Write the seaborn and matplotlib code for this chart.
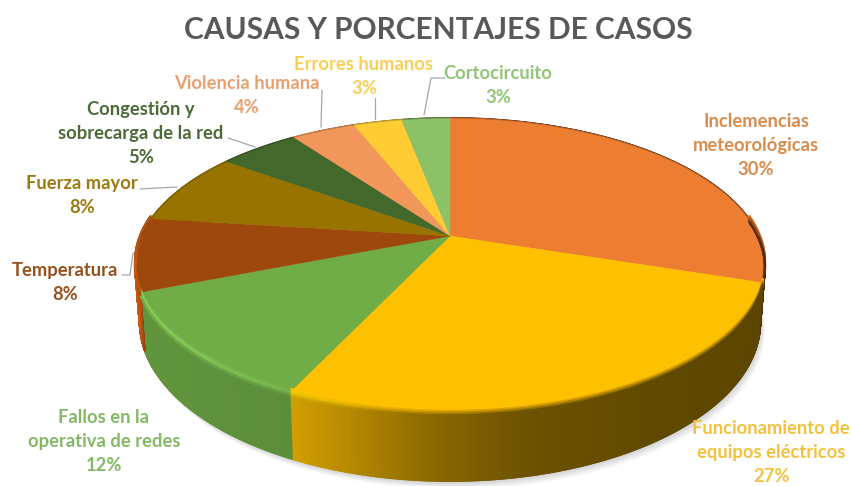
import numpy as np
import matplotlib
matplotlib.use("Agg")
import matplotlib.pyplot as plt
from matplotlib.collections import LineCollection, PolyCollection
import seaborn as sns

# Cases by cause, clockwise from twelve o'clock
categories = [
    "Inclemencias\nmeteorológicas",
    "Funcionamiento de\nequipos eléctricos",
    "Fallos en la\noperativa de redes",
    "Temperatura",
    "Fuerza mayor",
    "Congestión y\nsobrecarga de la red",
    "Violencia humana",
    "Errores humanos",
    "Cortocircuito",
]
percentages = [30, 27, 12, 8, 8, 5, 4, 3, 3]
slice_colors = ["#ED7D31", "#FFC000", "#70AD47", "#9E480E", "#997300",
                "#43682B", "#F1975A", "#FFCD33", "#8CC168"]
label_colors = ["#D98C4E", "#F2C23E", "#84B866", "#96511F", "#9C7B12",
                "#4B6B36", "#E8A070", "#F8CF55", "#94C478"]
label_centers = [(756, 145), (771, 452), (104, 441), (65, 282), (82, 195),
                 (141, 133), (247, 95), (364, 76), (498, 85)]
leaders = [
    [(322, 90), (321, 127)],
    [(375, 98), (375, 119)],
    [(445, 78), (431, 78), (424, 115)],
    [(228, 138), (255, 147)],
    [(140, 189), (177, 187)],
    [(122, 275), (130, 275), (133, 253)],
]

# Pie projection: a tilted disc seen in perspective, in pixel units
CX, CY = 450.0, 236.0
A, B, K = 308.6, 141.6, 0.2
DEPTH = 54.4
BASE_SCALE = 0.985
LINE_STEP = 24


def project(theta):
    u, v = np.cos(theta), np.sin(theta)
    w = 1 + K * v
    return CX + A * u / w, CY - B * v / w


def project_base(theta):
    x, y = project(theta)
    w = 1 + K * np.sin(theta)
    return CX + (x - CX) * BASE_SCALE, y + DEPTH / w


def side_shade(x):
    return np.interp(x, [135, 141, 293, 345, 430, 520, 650, 765],
                     [1.25, 0.86, 0.82, 0.72, 0.55, 0.43, 0.38, 0.36])


def mix(c, other, t):
    return tuple((1 - t) * np.array(c) + t * np.array(other))


sns.set_theme(style="white")
plt.rcParams["font.family"] = ["Lato", "DejaVu Sans"]
palette = sns.color_palette(slice_colors)

fig = plt.figure(figsize=(8.51, 4.86), dpi=100)
ax = fig.add_axes([0, 0, 1, 1])
ax.set_xlim(0, 851)
ax.set_ylim(486, 0)
ax.axis("off")

fractions = np.array(percentages) / sum(percentages)
edges = np.pi / 2 - 2 * np.pi * np.concatenate([[0], np.cumsum(fractions)])

# Soft ground shadow
ring = np.linspace(0, 2 * np.pi, 360)
rx, ry = project_base(ring)
for spread in np.arange(16, 0, -2):
    ax.fill(rx + spread * 0.3, ry + spread * 0.5, color="#000000",
            alpha=0.022, lw=0, zorder=1)

# Side wall: narrow strips shaded by horizontal position
for i, color in enumerate(palette):
    th = np.linspace(edges[i], edges[i + 1], max(10, int(percentages[i] * 18)))
    x, y = project(th)
    bx, by = project_base(th)
    strips, tints = [], []
    for j in range(len(th) - 1):
        strips.append([(x[j], y[j]), (x[j + 1], y[j + 1]),
                       (bx[j + 1], by[j + 1]), (bx[j], by[j])])
        tints.append(np.clip(np.array(color) * side_shade((x[j] + x[j + 1]) / 2), 0, 1))
    ax.add_collection(PolyCollection(strips, facecolors=tints, edgecolors=tints,
                                     linewidths=1.3, zorder=2))

# Top face
for i, color in enumerate(palette):
    th = np.linspace(edges[i], edges[i + 1], 120)
    x, y = project(th)
    ax.fill(np.r_[CX, x], np.r_[CY, y], color=color, lw=0.3, zorder=3)

# Bevel along the front rim: bright on the left, fading to shadow on the right
for i, color in enumerate(palette):
    th = np.linspace(edges[i], edges[i + 1], max(10, int(percentages[i] * 18)))
    x, y = project(th)
    for dy, weight in [(-3.5, 0.25), (-2.0, 0.6), (-0.5, 1.0), (1.0, 0.9), (2.5, 0.4)]:
        segs, tints = [], []
        for j in range(len(th) - 1):
            xm = (x[j] + x[j + 1]) / 2
            if np.sin((th[j] + th[j + 1]) / 2) > 0.12:
                continue
            side = np.clip(np.array(color) * side_shade(xm), 0, 1)
            light = np.clip(1.0 - (xm - 140) / 260, 0, 1)
            base = mix(color, side, min(1, (dy + 3.5) / 6))
            glow = np.clip(np.array(color) * 1.2 + 0.02, 0, 1)
            segs.append([(x[j], y[j] + dy), (x[j + 1], y[j + 1] + dy)])
            tints.append(mix(base, glow, light * weight))
        ax.add_collection(LineCollection(segs, colors=tints, linewidths=1.6,
                                         zorder=4, capstyle="round"))
    # Faint darker line along the far rim
    back = np.sin(th) > 0
    if back.any():
        dark = np.clip(np.array(color) * 0.72, 0, 1)
        ax.plot(x[back], y[back], color=dark, lw=0.6, alpha=0.7, zorder=4)

# Leader lines
for path in leaders:
    px, py = zip(*path)
    ax.plot(px, py, color="#A6A6A6", lw=0.9, zorder=5)

# Data labels, one text per line so each keeps a tight box
for name, value, (lx, ly), color in zip(categories, percentages, label_centers, label_colors):
    rows = name.split("\n") + [f"{value}%"]
    for k, row in enumerate(rows):
        row_y = ly + (k - (len(rows) - 1) / 2) * LINE_STEP + 6
        ax.text(lx, row_y, row, color=color, fontsize=13.2, fontweight="bold",
                ha="center", va="baseline", zorder=6)

ax.text(438, 30, "CAUSAS Y PORCENTAJES DE CASOS", color="#595959", fontsize=21.5,
        fontweight="bold", ha="center", va="center", zorder=6)

fig.savefig("out.png", dpi=100, facecolor="white")
